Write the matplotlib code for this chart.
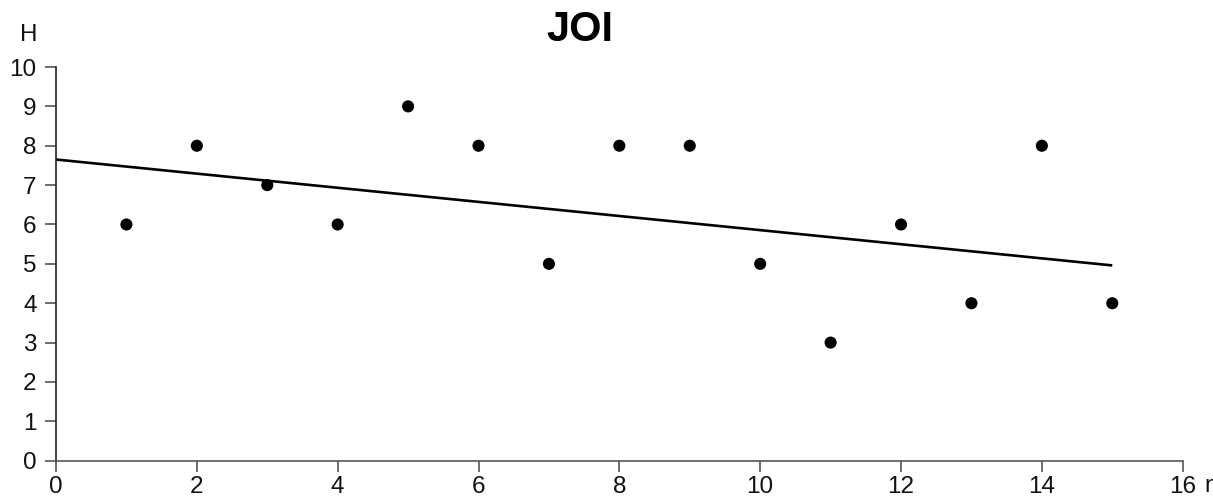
import matplotlib
matplotlib.use('Agg')
import matplotlib.pyplot as plt

# data
x_vals = [1, 2, 3, 4, 5, 6, 7, 8, 9, 10, 11, 12, 13, 14, 15]
y_vals = [6, 8, 7, 6, 9, 8, 5, 8, 8, 5, 3, 6, 4, 8, 4]
trend_x = [0, 15]
trend_y = [7.65, 4.96]
x_ticks = [0, 2, 4, 6, 8, 10, 12, 14, 16]
y_ticks = [0, 1, 2, 3, 4, 5, 6, 7, 8, 9, 10]

plt.rcParams['font.family'] = ['Liberation Sans', 'DejaVu Sans']

W, H = 1213, 498
fig = plt.figure(figsize=(W / 100, H / 100), dpi=100)
ax = fig.add_axes([56 / W, 1 - 460.7 / H, (1182.7 - 56) / W, (460.7 - 67) / H])

ax.plot(trend_x, trend_y, color='black', lw=1.9, solid_capstyle='butt', zorder=2)
ax.scatter(x_vals, y_vals, s=76, color='black', edgecolors='none', zorder=3)

ax.set_xlim(0, 16)
ax.set_ylim(0, 10)
ax.set_xticks(x_ticks)
ax.set_yticks(y_ticks)

for side in ['top', 'right']:
    ax.spines[side].set_visible(False)
for side in ['left', 'bottom']:
    ax.spines[side].set_color('#555555')
    ax.spines[side].set_linewidth(1.2)
ax.spines['left'].set_color('#222222')

ax.tick_params(axis='both', direction='out', length=8, width=1.2, color='#555555',
               labelsize=17.5, labelcolor='#111111')
ax.tick_params(axis='y', pad=6)
ax.tick_params(axis='x', pad=3)

# axis names and title placed like the picture
fig.text(29 / W, 1 - 35 / H, 'H', fontsize=17.5, ha='center', va='center', color='#111111')
fig.text(1204 / W, 1 - 486 / H, 'n', fontsize=17.5, ha='left', va='center', color='#111111')
fig.text(580 / W, 1 - 30 / H, 'JOI', fontsize=30, fontweight='bold', ha='center', va='center')

fig.savefig('out.png', dpi=100)
